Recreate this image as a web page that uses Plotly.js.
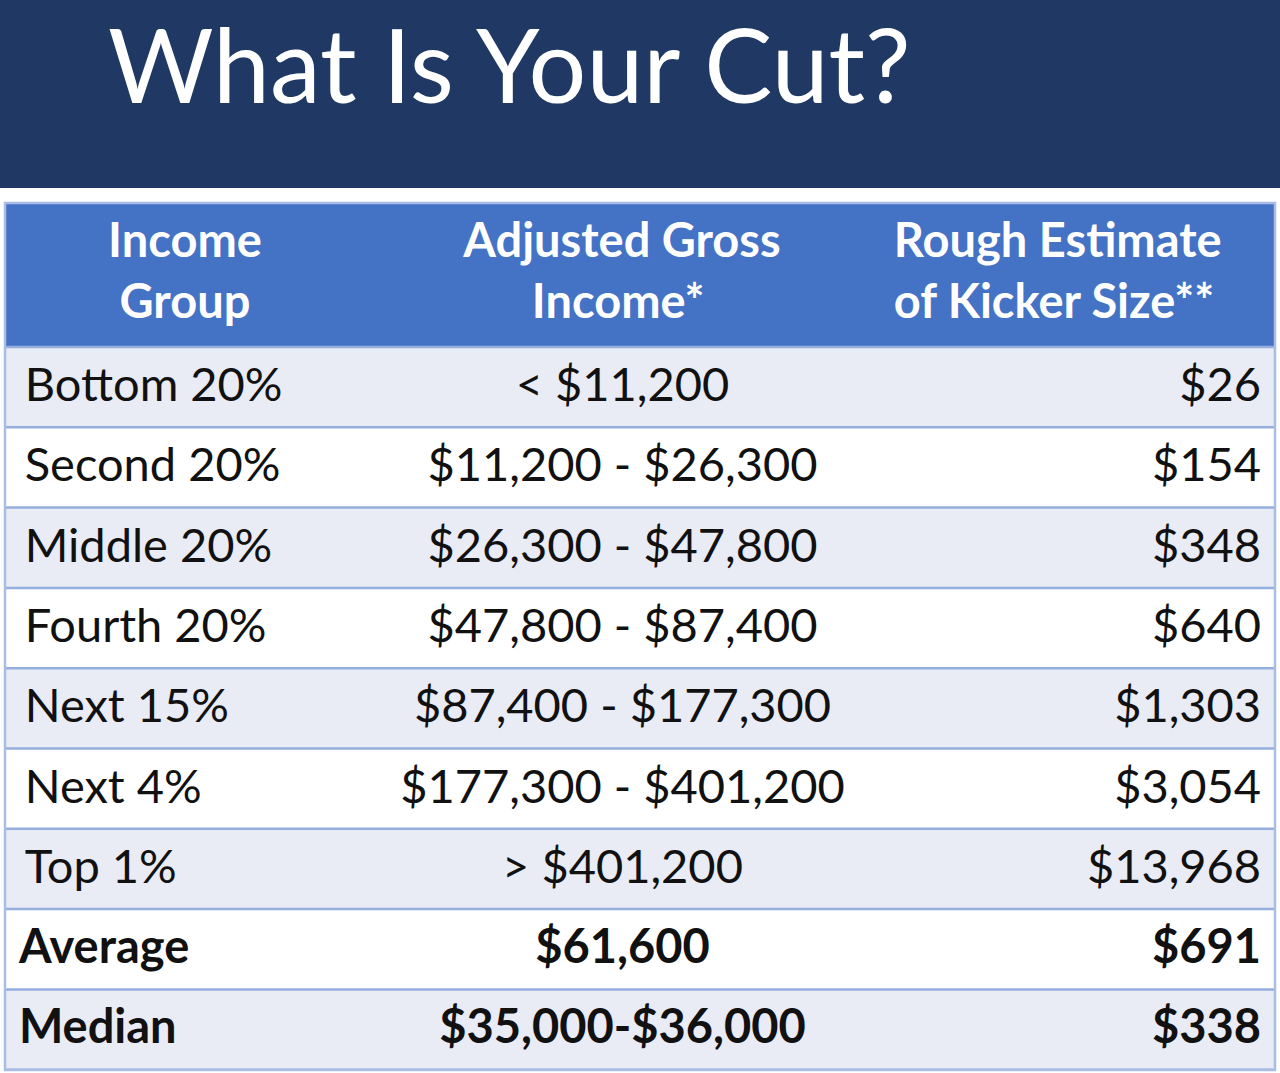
<!DOCTYPE html>
<html>
<head>
<meta charset="utf-8">
<script src="https://cdn.plot.ly/plotly-3.0.1.min.js"></script>
<style>html,body{margin:0;padding:0;background:#fff;}#chart{width:1280px;height:1073px;}</style>
</head>
<body>
<div id="chart"></div>
<script>
const titleText = "What Is Your Cut?";
const headerLines = [["Income", "Group"], ["Adjusted Gross", "Income*"], ["Rough Estimate", "of Kicker Size**"]];
const incomeGroups = ["Bottom 20%", "Second 20%", "Middle 20%", "Fourth 20%", "Next 15%", "Next 4%", "Top 1%", "Average", "Median"];
const agiRanges = ["< $11,200", "$11,200 - $26,300", "$26,300 - $47,800", "$47,800 - $87,400", "$87,400 - $177,300", "$177,300 - $401,200", "> $401,200", "$61,600", "$35,000-$36,000"];
const kickerSizes = ["$26", "$154", "$348", "$640", "$1,303", "$3,054", "$13,968", "$691", "$338"];
const boldRows = ["Average", "Median"];

const FONT = "Lato, 'Open Sans', sans-serif";
const FS = 47;
const esc = s => s.replace(/&/g, "&amp;").replace(/</g, "&lt;").replace(/>/g, "&gt;");
const isBold = incomeGroups.map(g => boldRows.includes(g));
const fmt = col => col.map((v, i) => isBold[i] ? "<b>" + esc(v) + "</b>" : "<span>" + esc(v) + "</span>");

// centre each header line inside its block (Plotly left-aligns lines within a block)
const cv = document.createElement("canvas").getContext("2d");
cv.font = "bold " + FS + "px Lato";
const nbspW = cv.measureText("\u00A0").width || 9;
const centreLines = (lines, lead) => {
  if (lead === null) {
    const widths = lines.map(l => cv.measureText(l).width);
    const maxW = Math.max(...widths);
    return "<b>" + lines.map((l, i) => "\u00A0".repeat(Math.round((maxW - widths[i]) / 2 / nbspW)) + l).join("<br>") + "</b>";
  }
  return "<b>" + lines.map(l => lead + l).join("<br>") + "</b>";
};
const headerValues = headerLines.map((ls, i) => centreLines(ls, i < 2 ? null : "\u2009"));

const rowFill = incomeGroups.map((g, i) => i % 2 === 0 ? "#E9EBF5" : "#FFFFFF");
const lineCol = "#94AEDD";
const headerH = 144, rowH = 80.3;

const trace = {
  type: "table",
  domain: {x: [0, 1], y: [0, 1]},
  columnwidth: [360, 515, 395],
  header: {
    values: headerValues,
    align: ["center", "center", "left"],
    height: headerH,
    fill: {color: "#4472C4"},
    line: {color: "#4472C4", width: 1},
    font: {family: FONT, size: FS, color: "#FFFFFF"}
  },
  cells: {
    values: [fmt(incomeGroups), fmt(agiRanges), fmt(kickerSizes)],
    align: ["left", "center", "right"],
    prefix: ["\u2009", "", ""],
    suffix: ["", "", "\u2009"],
    height: rowH,
    fill: {color: [rowFill, rowFill, rowFill]},
    line: {color: [rowFill, rowFill, rowFill], width: 1},
    font: {family: FONT, size: FS, color: "#111111"}
  }
};

const H = 1073, tableTop = 203, tableBottom = 3, ph = H - tableTop - tableBottom;
const shapes = [{
  type: "rect", xref: "paper", yref: "paper",
  x0: -5 / 1270, x1: 1 + 5 / 1270,
  y0: 1 + (tableTop - 188) / ph, y1: 1 + tableTop / ph,
  fillcolor: "#203864", line: {width: 0}, layer: "below"
}];
for (let i = 0; i <= incomeGroups.length; i++) {
  const y = 1 - (headerH + i * rowH) / ph;
  shapes.push({type: "line", xref: "paper", yref: "paper", x0: 0, x1: 1, y0: y, y1: y,
    line: {color: lineCol, width: 2.5}, layer: "above"});
}
shapes.push({type: "rect", xref: "paper", yref: "paper", x0: 0, x1: 1, y0: 0, y1: 1,
  line: {color: "#A9BDE5", width: 2.5}, layer: "above"});

const layout = {
  width: 1280, height: 1073,
  margin: {l: 5, r: 5, t: tableTop, b: tableBottom},
  paper_bgcolor: "#FFFFFF",
  showlegend: false,
  title: {
    text: titleText,
    xref: "container", yref: "container",
    x: 108 / 1280, xanchor: "left",
    y: 1 - 67 / 1073, yanchor: "middle",
    font: {family: FONT, size: 102, color: "#FFFFFF"}
  },
  shapes: shapes
};

Plotly.newPlot("chart", [trace], layout, {displayModeBar: false, staticPlot: true});
</script>
</body>
</html>
